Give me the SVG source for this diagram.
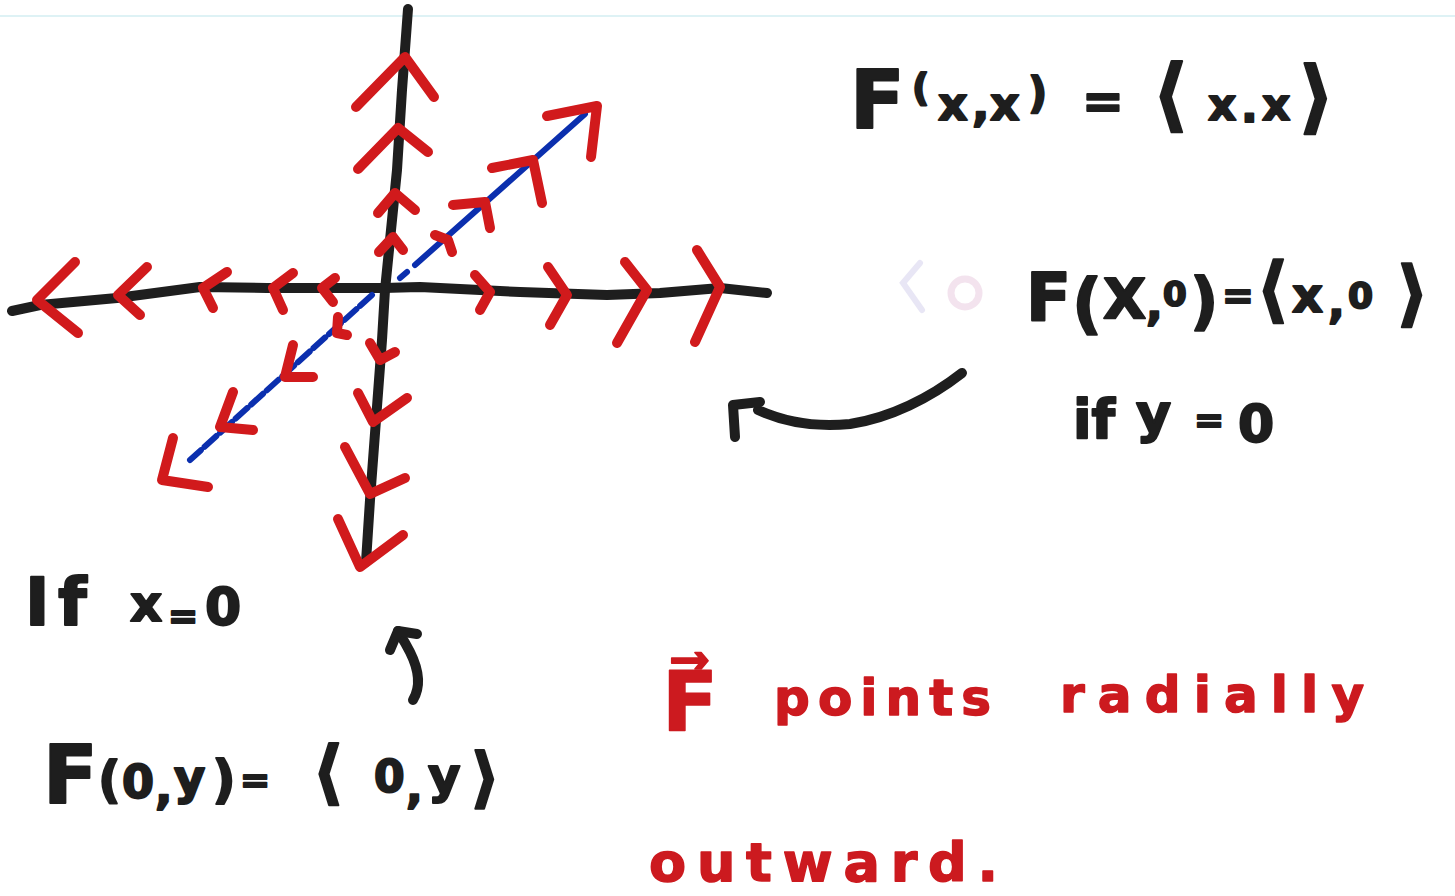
<svg xmlns="http://www.w3.org/2000/svg" width="1455" height="896" viewBox="0 0 1455 896">
<style>
.axis{fill:none;stroke:#1e1e1e;stroke-width:10;stroke-linecap:round;stroke-linejoin:round}
.chev{fill:none;stroke:#d11a1c;stroke-width:10;stroke-linecap:round;stroke-linejoin:round}
.diag{fill:none;stroke:#0b2fae;stroke-width:6;stroke-linecap:round}
.ink{fill:none;stroke:#1e1e1e;stroke-width:10;stroke-linecap:round;stroke-linejoin:round}
.bk{font-family:"DejaVu Sans","Liberation Sans",sans-serif;font-weight:bold;fill:#1e1e1e;stroke:#1e1e1e;stroke-width:2;stroke-linejoin:round}
.rd{font-family:"DejaVu Sans","Liberation Sans",sans-serif;font-weight:bold;fill:#cc1a1f;stroke:#cc1a1f;stroke-width:1.5;stroke-linejoin:round}
</style>
<rect width="1455" height="896" fill="#ffffff"/>
<line x1="0" y1="16" x2="1455" y2="16" stroke="#def2f5" stroke-width="2"/>
<g id="faint-marks" opacity="0.6">
<polyline points="920,263 903,283 922,310" fill="none" stroke="#d9d6ef" stroke-width="6" stroke-linecap="round"/>
<circle cx="965" cy="293" r="14" fill="none" stroke="#ecd2e4" stroke-width="7"/>
</g>
<g id="axes">
<path class="axis" d="M408,9 L402,90 L397,170 L390,240 L385,290 L382,340 L376,420 L370,500 L366,562"/>
<path class="axis" d="M12,311 L40,305 L117,298 L200,287 L267,288 L383,288 L420,287 L520,292 L607,295 L660,293 L720,288 L767,293"/>
</g>
<g id="diagonal">
<path class="diag" d="M400,278 L407,272"/>
<path class="diag" d="M415,265 L585,114"/>
<path class="diag" d="M372,295 L190,460" stroke-dasharray="16 5"/>
</g>
<g id="field-arrows">
<polyline class="chev" points="75,262 37,300 78,333"/>
<polyline class="chev" points="147,267 118,295 140,315"/>
<polyline class="chev" points="227,272 203,288 213,308"/>
<polyline class="chev" points="293,273 273,288 283,310"/>
<polyline class="chev" points="335,278 322,288 333,302"/>
<polyline class="chev" points="475,275 490,292 480,310"/>
<polyline class="chev" points="548,267 567,295 550,325"/>
<polyline class="chev" points="625,262 647,290 617,343"/>
<polyline class="chev" points="697,250 720,287 695,342"/>
<polyline class="chev" points="356,107 405,57 434,97"/>
<polyline class="chev" points="358,169 398,128 428,152"/>
<polyline class="chev" points="378,213 395,193 415,210"/>
<polyline class="chev" points="379,252 393,237 403,250"/>
<polyline class="chev" points="370,343 380,360 395,352"/>
<polyline class="chev" points="358,393 373,422 407,398"/>
<polyline class="chev" points="345,447 370,494 405,478"/>
<polyline class="chev" points="338,519 360,567 403,535"/>
<polyline class="chev" points="547,116 597,106 591,157"/>
<polyline class="chev" points="492,168 533,160 542,203"/>
<polyline class="chev" points="453,205 485,202 490,228"/>
<polyline class="chev" points="435,235 448,240 452,252"/>
<polyline class="chev" points="338,317 337,333 347,335"/>
<polyline class="chev" points="293,345 285,377 313,377"/>
<polyline class="chev" points="233,392 220,427 253,430"/>
<polyline class="chev" points="173,438 162,480 208,487"/>
</g>
<g id="connectors">
<path class="ink" d="M962,373 C930,398 890,418 850,424 C810,428 780,420 758,410"/>
<polyline class="ink" points="735,437 733,405 760,402"/>
<path class="ink" stroke-width="9" d="M413,700 C422,685 418,668 410,652 C405,642 401,636 398,631"/>
<polyline class="ink" stroke-width="9" points="390,650 398,631 417,634"/>
</g>
<g id="label-fxx">
<text class="bk"><tspan x="850" y="128" font-size="80">F</tspan><tspan x="912" y="100" font-size="38">(</tspan><tspan x="938" y="120" font-size="46">x</tspan><tspan x="972" y="120" font-size="46">,</tspan><tspan x="990" y="120" font-size="46">x</tspan><tspan x="1028" y="108" font-size="42">)</tspan><tspan x="1082" y="118" font-size="50">=</tspan><tspan x="1152" y="122" font-size="80">⟨</tspan><tspan x="1208" y="120" font-size="44">x</tspan><tspan x="1241" y="122" font-size="44">.</tspan><tspan x="1262" y="120" font-size="44">x</tspan><tspan x="1298" y="124" font-size="80">⟩</tspan></text>
</g>
<g id="label-fx0">
<text class="bk"><tspan x="1026" y="320" font-size="66">F</tspan><tspan x="1072" y="326" font-size="66">(</tspan><tspan x="1103" y="318" font-size="56">X</tspan><tspan x="1146" y="320" font-size="44">,</tspan><tspan x="1163" y="306" font-size="34">0</tspan><tspan x="1190" y="322" font-size="62">)</tspan><tspan x="1222" y="308" font-size="38">=</tspan><tspan x="1256" y="314" font-size="72">⟨</tspan><tspan x="1292" y="312" font-size="48">x</tspan><tspan x="1328" y="318" font-size="44">,</tspan><tspan x="1348" y="308" font-size="36">0</tspan><tspan x="1396" y="318" font-size="72">⟩</tspan></text>
<text class="bk"><tspan x="1073" y="438" font-size="54">if</tspan><tspan x="1136" y="432" font-size="54">y</tspan><tspan x="1194" y="432" font-size="36">=</tspan><tspan x="1238" y="442" font-size="52">0</tspan></text>
</g>
<g id="label-f0y">
<text class="bk"><tspan x="25" y="625" font-size="66">I</tspan><tspan x="58" y="625" font-size="66">f</tspan><tspan x="130" y="621" font-size="50">x</tspan><tspan x="168" y="628" font-size="36">=</tspan><tspan x="205" y="625" font-size="52">0</tspan></text>
<text class="bk"><tspan x="43" y="803" font-size="80">F</tspan><tspan x="98" y="797" font-size="50">(</tspan><tspan x="122" y="798" font-size="46">0</tspan><tspan x="155" y="803" font-size="46">,</tspan><tspan x="174" y="794" font-size="48">y</tspan><tspan x="212" y="797" font-size="52">)</tspan><tspan x="240" y="792" font-size="36">=</tspan><tspan x="312" y="796" font-size="70">⟨</tspan><tspan x="374" y="792" font-size="44">0</tspan><tspan x="406" y="803" font-size="44">,</tspan><tspan x="428" y="793" font-size="50">y</tspan><tspan x="470" y="800" font-size="66">⟩</tspan></text>
</g>
<g id="label-radial">
<text class="rd"><tspan x="662" y="730" font-size="82">F⃗</tspan></text>
<text class="rd" x="774" y="715" font-size="50" textLength="217" lengthAdjust="spacing">points</text>
<text class="rd" x="1060" y="712" font-size="50" textLength="304" lengthAdjust="spacing">radially</text>
<text class="rd" x="649" y="881" font-size="54" textLength="349" lengthAdjust="spacing">outward.</text>
</g>
</svg>
